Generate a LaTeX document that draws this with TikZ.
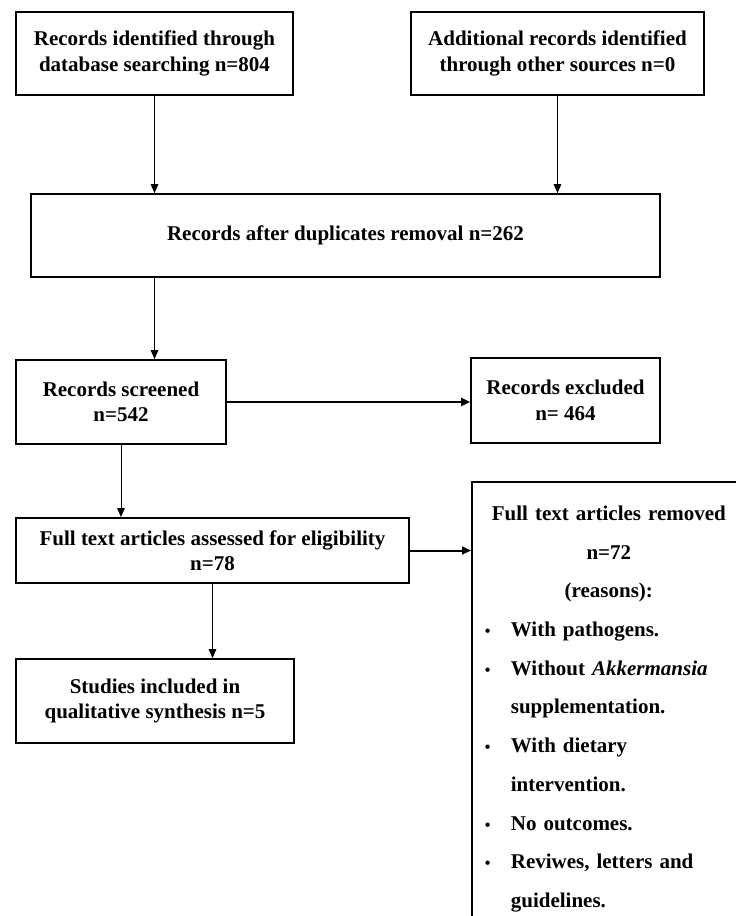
\documentclass[tikz,border=0pt]{standalone}
\usepackage{fontspec}
\setmainfont{Liberation Serif}
\usetikzlibrary{arrows.meta}

\newcommand{\reasonitem}[1]{\makebox[256pt][l]{\hspace{4pt}\makebox[26pt][l]{\fontsize{16}{16}\selectfont •}#1}}
\newcommand{\reasoncont}[1]{\makebox[256pt][l]{\hspace{30pt}#1}}

\begin{document}
\begin{tikzpicture}[x=1pt, y=-1pt,
    box/.style={draw, line width=1.7pt, align=center, inner sep=0pt,
        font=\bfseries\fontsize{21}{25.5}\selectfont},
    arr/.style={line width=0.9pt, -{Triangle[length=9pt, width=7.5pt]}},
    thickarr/.style={line width=2pt, -{Triangle[length=9pt, width=8pt]}}]
    \clip (0,0) rectangle (736,916);
    \fill[white] (0,0) rectangle (736,916);

    % identification
    \node[box, minimum width=277pt, minimum height=83pt] (ident) at (154.5,53.5)
        {Records identified through\\database searching n=804};
    \node[box, minimum width=293pt, minimum height=83pt] (other) at (557.5,53.5)
        {Additional records identified\\through other sources n=0};
    \node[box, minimum width=629pt, minimum height=83pt] (dup) at (345.5,235.5)
        {Records after duplicates removal n=262};

    % screening
    \node[box, minimum width=210pt, minimum height=84pt] (screened) at (121,402)
        {Records screened\\n=542};
    \node[box, minimum width=189pt, minimum height=85pt] (excluded) at (565.5,400.5)
        {Records excluded\\n= 464};

    % eligibility
    \node[box, minimum width=393pt, minimum height=65pt] (assessed) at (212.5,550.5)
        {Full text articles assessed for eligibility\\n=78};
    \node[draw, line width=1.7pt, anchor=north west, inner xsep=9pt, inner ysep=24pt,
        text width=256pt, align=center,
        font=\bfseries\fontsize{21}{38.7}\selectfont] (removed) at (471,481)
        {Full text articles removed\\
         n=72\\
         (reasons):\\
         \reasonitem{With pathogens.}\\
         \reasonitem{Without \textit{Akkermansia}}\\
         \reasoncont{supplementation.}\\
         \reasonitem{With dietary}\\
         \reasoncont{intervention.}\\
         \reasonitem{No outcomes.}\\
         \reasonitem{Reviwes, letters and}\\
         \reasoncont{guidelines.}\\[30pt]};

    % included
    \node[box, minimum width=278pt, minimum height=84pt] (included) at (155,701)
        {Studies included in\\qualitative synthesis n=5};

    \draw[arr] (ident.south) -- (ident.south |- dup.north);
    \draw[arr] (other.south) -- (other.south |- dup.north);
    \draw[arr] (ident.south |- dup.south) -- (ident.south |- screened.north);
    \draw[thickarr] (screened.east) -- (excluded.west |- screened.east);
    \draw[arr] (screened.south) -- (screened.south |- assessed.north);
    \draw[thickarr] (assessed.east) -- (removed.west |- assessed.east);
    \draw[arr] (assessed.south) -- (assessed.south |- included.north);
\end{tikzpicture}
\end{document}
